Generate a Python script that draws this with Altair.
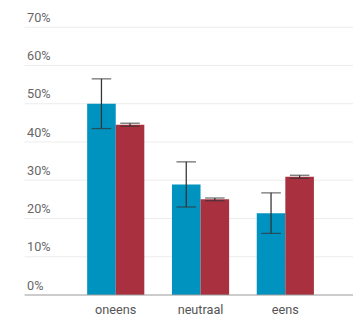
import altair as alt
import pandas as pd

categories = ["oneens", "neutraal", "eens"]
series = ["A", "B"]
values_a = [0.50, 0.289, 0.214]
err_a = [0.065, 0.059, 0.053]
values_b = [0.445, 0.250, 0.309]
err_b = [0.004, 0.0035, 0.004]
y_ticks = [0, 0.1, 0.2, 0.3, 0.4, 0.5, 0.6, 0.7]

rows = []
for i, c in enumerate(categories):
    rows.append({"cat": c, "s": "A", "v": values_a[i], "lo": values_a[i] - err_a[i], "hi": values_a[i] + err_a[i]})
    rows.append({"cat": c, "s": "B", "v": values_b[i], "lo": values_b[i] - err_b[i], "hi": values_b[i] + err_b[i]})
df = pd.DataFrame(rows)

xscale = alt.Scale(domain=categories, range=[64, 296], paddingInner=0.326, paddingOuter=0)
xaxis = alt.Axis(domain=False, ticks=False, labelPadding=9, labelFontSize=13,
                 labelColor="#555", labelFont="Roboto", labelAngle=0)
xoff = alt.XOffset("s:N", scale=alt.Scale(domain=series, paddingInner=0, paddingOuter=0))
yscale = alt.Scale(domain=[0, 0.7], nice=False)
yaxis = alt.Axis(format=".0%", values=y_ticks, labelOverlap=False,
                 domain=False, ticks=False, grid=False,
                 labelAlign="left", labelBaseline="bottom", labelPadding=-2,
                 labelOffset=-3, labelFontSize=13, labelColor="#666",
                 labelFont="Roboto")

def X():
    return alt.X("cat:N", scale=xscale, sort=categories, title=None, axis=xaxis)

def Y(f):
    return alt.Y(f, scale=yscale, title=None, axis=yaxis)

grid = alt.Chart(pd.DataFrame({"g": y_ticks[1:]})).mark_rule(color="#ececec", strokeWidth=1).encode(
    y=Y("g:Q")
)

base = alt.Chart(df)

bars = base.mark_bar().encode(
    x=X(), xOffset=xoff,
    y=Y("v:Q"),
    color=alt.Color("s:N", scale=alt.Scale(domain=series, range=["#0093C0", "#A8303F"]), legend=None),
)

rules = base.mark_rule(color="#333", strokeWidth=1.3).encode(
    x=X(), xOffset=xoff,
    y=Y("lo:Q"), y2="hi:Q",
)
caps_hi = base.mark_tick(color="#333", thickness=1.3, size=20, orient="horizontal").encode(
    x=X(), xOffset=xoff,
    y=Y("hi:Q"),
)
caps_lo = base.mark_tick(color="#333", thickness=1.3, size=20, orient="horizontal").encode(
    x=X(), xOffset=xoff,
    y=Y("lo:Q"),
)
baseline = alt.Chart(pd.DataFrame({"z": [0]})).mark_rule(color="#999", strokeWidth=1.2).encode(
    y=Y("z:Q")
)

chart = alt.layer(grid, bars, rules, caps_hi, caps_lo, baseline).properties(
    width=336, height=274,
    autosize=alt.AutoSizeParams(type="none"),
    padding={"left": 17, "top": 16, "right": 0, "bottom": 25},
).configure_view(stroke=None).configure_axisY(labelOverlap=False)

chart.save("out.html", embed_options={"renderer": "svg", "actions": False})
